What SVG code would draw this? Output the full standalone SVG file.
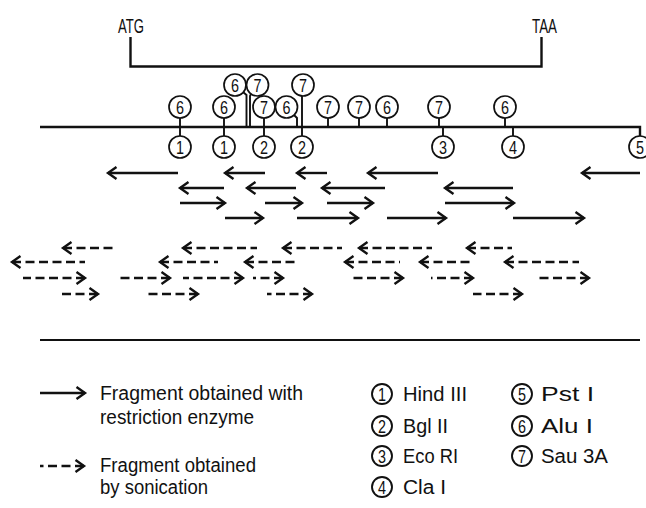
<svg xmlns="http://www.w3.org/2000/svg" width="646" height="508" viewBox="0 0 646 508">
<style>
text{font-family:"Liberation Sans","DejaVu Sans",sans-serif;fill:#111}
.lbl{font-size:20px}
.dg{font-size:18px;text-anchor:middle}
.ln{stroke:#111;stroke-width:2.4;fill:none}
.st{stroke:#111;stroke-width:1.9;fill:none}
.c{stroke:#111;stroke-width:1.7;fill:#fff}
.a{stroke:#111;stroke-width:2.4;fill:none;marker-start:url(#h)}
.d{stroke:#111;stroke-width:2.4;fill:none;stroke-dasharray:9 4.5;marker-start:url(#h)}
</style>
<defs>
<marker id="h" markerUnits="userSpaceOnUse" orient="auto-start-reverse" refX="0" refY="0" markerWidth="12" markerHeight="12" overflow="visible">
<path d="M-8.5,-6 L0,0 L-8.5,6" fill="none" stroke="#111" stroke-width="2.4"/>
</marker>
</defs>
<rect width="646" height="508" fill="#fff"/>

<g id="gene">
<text class="lbl" x="118" y="33" textLength="26" lengthAdjust="spacingAndGlyphs">ATG</text>
<text class="lbl" x="532" y="33" textLength="25" lengthAdjust="spacingAndGlyphs">TAA</text>
<path class="ln" d="M130.5,37 V66.5 H541.5 V37"/>
</g>

<g id="dna">
<path class="ln" d="M40,127 H640 V136"/>
</g>

<g id="sites">
<g id="s1"><path class="st" d="M180,118 V136"/><circle class="c" cx="180" cy="107" r="11"/><text class="dg" x="180" y="113.5" textLength="8" lengthAdjust="spacingAndGlyphs">6</text><circle class="c" cx="180" cy="147" r="11"/><text class="dg" x="180" y="153.5" textLength="8" lengthAdjust="spacingAndGlyphs">1</text></g>
<g id="s2"><path class="st" d="M224,118 V136"/><circle class="c" cx="224" cy="107" r="11"/><text class="dg" x="224" y="113.5" textLength="8" lengthAdjust="spacingAndGlyphs">6</text><circle class="c" cx="224" cy="147" r="11"/><text class="dg" x="224" y="153.5" textLength="8" lengthAdjust="spacingAndGlyphs">1</text></g>
<g id="s3"><path class="st" d="M243,92 L246.5,95 V127"/><circle class="c" cx="235" cy="85" r="11"/><text class="dg" x="235" y="91.5" textLength="8" lengthAdjust="spacingAndGlyphs">6</text></g>
<g id="s4"><path class="st" d="M251,94 L250,96 V127"/><circle class="c" cx="257.5" cy="85" r="11"/><text class="dg" x="257.5" y="91.5" textLength="8" lengthAdjust="spacingAndGlyphs">7</text></g>
<g id="s5"><path class="st" d="M264,118 V136"/><circle class="c" cx="264" cy="107" r="11"/><text class="dg" x="264" y="113.5" textLength="8" lengthAdjust="spacingAndGlyphs">7</text><circle class="c" cx="264" cy="147" r="11"/><text class="dg" x="264" y="153.5" textLength="8" lengthAdjust="spacingAndGlyphs">2</text></g>
<g id="s6"><path class="st" d="M294,115 L297,118 V127"/><circle class="c" cx="286.5" cy="107" r="11"/><text class="dg" x="286.5" y="113.5" textLength="8" lengthAdjust="spacingAndGlyphs">6</text></g>
<g id="s7"><path class="st" d="M302,96 V136"/><circle class="c" cx="303" cy="85" r="11"/><text class="dg" x="303" y="91.5" textLength="8" lengthAdjust="spacingAndGlyphs">7</text><circle class="c" cx="302" cy="147" r="11"/><text class="dg" x="302" y="153.5" textLength="8" lengthAdjust="spacingAndGlyphs">2</text></g>
<g id="s8"><path class="st" d="M328,118 V127"/><circle class="c" cx="328" cy="107" r="11"/><text class="dg" x="328" y="113.5" textLength="8" lengthAdjust="spacingAndGlyphs">7</text></g>
<g id="s9"><path class="st" d="M359,118 V127"/><circle class="c" cx="359" cy="107" r="11"/><text class="dg" x="359" y="113.5" textLength="8" lengthAdjust="spacingAndGlyphs">7</text></g>
<g id="s10"><path class="st" d="M387,118 V127"/><circle class="c" cx="387" cy="107" r="11"/><text class="dg" x="387" y="113.5" textLength="8" lengthAdjust="spacingAndGlyphs">6</text></g>
<g id="s11"><path class="st" d="M439,118 V127"/><circle class="c" cx="439" cy="107" r="11"/><text class="dg" x="439" y="113.5" textLength="8" lengthAdjust="spacingAndGlyphs">7</text></g>
<g id="s12"><path class="st" d="M443,127 V136"/><circle class="c" cx="443" cy="147" r="11"/><text class="dg" x="443" y="153.5" textLength="8" lengthAdjust="spacingAndGlyphs">3</text></g>
<g id="s13"><path class="st" d="M505,118 V127"/><circle class="c" cx="505" cy="107" r="11"/><text class="dg" x="505" y="113.5" textLength="8" lengthAdjust="spacingAndGlyphs">6</text></g>
<g id="s14"><path class="st" d="M513,127 V136"/><circle class="c" cx="513" cy="147" r="11"/><text class="dg" x="513" y="153.5" textLength="8" lengthAdjust="spacingAndGlyphs">4</text></g>
<g id="s15"><circle class="c" cx="640" cy="147" r="11"/><text class="dg" x="640" y="153.5" textLength="8" lengthAdjust="spacingAndGlyphs">5</text></g>
</g>

<g id="connectors">
<path class="a" d="M108,173 H178"/>
<path class="a" d="M225,173 H265"/>
<path class="a" d="M297,173 H327"/>
<path class="a" d="M368,173 H438"/>
<path class="a" d="M582,173 H640"/>
<path class="a" d="M180,188 H224"/>
<path class="a" d="M247,188 H296"/>
<path class="a" d="M322,188 H385"/>
<path class="a" d="M445,188 H513"/>
<path class="a" d="M225,203 H180"/>
<path class="a" d="M302,203 H265"/>
<path class="a" d="M373,203 H327"/>
<path class="a" d="M514,203 H445"/>
<path class="a" d="M263,218 H225"/>
<path class="a" d="M358,218 H297"/>
<path class="a" d="M446,218 H387"/>
<path class="a" d="M584,218 H513"/>
<path class="d" d="M63,248 H117"/>
<path class="d" d="M183,248 H257"/>
<path class="d" d="M283,248 H342"/>
<path class="d" d="M359,248 H432"/>
<path class="d" d="M467,248 H512"/>
<path class="d" d="M12,262 H85"/>
<path class="d" d="M160,262 H218"/>
<path class="d" d="M245,262 H298"/>
<path class="d" d="M345,262 H400"/>
<path class="d" d="M420,262 H473"/>
<path class="d" d="M505,262 H579"/>
<path class="d" d="M85,278 H23"/>
<path class="d" d="M170,278 H118"/>
<path class="d" d="M243,278 H183"/>
<path class="d" d="M283,278 H253"/>
<path class="d" d="M403,278 H352"/>
<path class="d" d="M473,278 H431"/>
<path class="d" d="M589,278 H536"/>
<path class="d" d="M98,294 H58"/>
<path class="d" d="M198,294 H144"/>
<path class="d" d="M312,294 H267"/>
<path class="d" d="M522,294 H473"/>
</g>

<g id="rule"><path d="M40,340 H640" stroke="#111" stroke-width="2"/></g>

<g id="legend">
<path class="a" d="M85,393 H40"/>
<text class="lbl" x="100" y="400" textLength="203" lengthAdjust="spacingAndGlyphs">Fragment obtained with</text>
<text class="lbl" x="100" y="424" textLength="154" lengthAdjust="spacingAndGlyphs">restriction enzyme</text>
<path class="d" d="M84,466 H40"/>
<text class="lbl" x="100" y="472" textLength="156" lengthAdjust="spacingAndGlyphs">Fragment obtained</text>
<text class="lbl" x="100" y="494" textLength="108" lengthAdjust="spacingAndGlyphs">by sonication</text>

<g id="k1"><circle class="st" cx="382" cy="394" r="10"/><text class="dg" x="382" y="400.5" textLength="8" lengthAdjust="spacingAndGlyphs">1</text><text class="lbl" x="403" y="401" textLength="64" lengthAdjust="spacingAndGlyphs">Hind III</text></g>
<g id="k2"><circle class="st" cx="382" cy="426" r="10"/><text class="dg" x="382" y="432.5" textLength="8" lengthAdjust="spacingAndGlyphs">2</text><text class="lbl" x="403" y="433" textLength="45" lengthAdjust="spacingAndGlyphs">Bgl II</text></g>
<g id="k3"><circle class="st" cx="382" cy="456" r="10"/><text class="dg" x="382" y="462.5" textLength="8" lengthAdjust="spacingAndGlyphs">3</text><text class="lbl" x="403" y="463" textLength="55" lengthAdjust="spacingAndGlyphs">Eco RI</text></g>
<g id="k4"><circle class="st" cx="382" cy="487" r="10"/><text class="dg" x="382" y="493.5" textLength="8" lengthAdjust="spacingAndGlyphs">4</text><text class="lbl" x="403" y="494" textLength="43" lengthAdjust="spacingAndGlyphs">Cla I</text></g>
<g id="k5"><circle class="st" cx="522" cy="394" r="10"/><text class="dg" x="522" y="400.5" textLength="8" lengthAdjust="spacingAndGlyphs">5</text><text class="lbl" x="541" y="401" textLength="53" lengthAdjust="spacingAndGlyphs">Pst I</text></g>
<g id="k6"><circle class="st" cx="522" cy="426" r="10"/><text class="dg" x="522" y="432.5" textLength="8" lengthAdjust="spacingAndGlyphs">6</text><text class="lbl" x="541" y="433" textLength="52" lengthAdjust="spacingAndGlyphs">Alu I</text></g>
<g id="k7"><circle class="st" cx="522" cy="456" r="10"/><text class="dg" x="522" y="462.5" textLength="8" lengthAdjust="spacingAndGlyphs">7</text><text class="lbl" x="541" y="463" textLength="67" lengthAdjust="spacingAndGlyphs">Sau 3A</text></g>
</g>
</svg>
